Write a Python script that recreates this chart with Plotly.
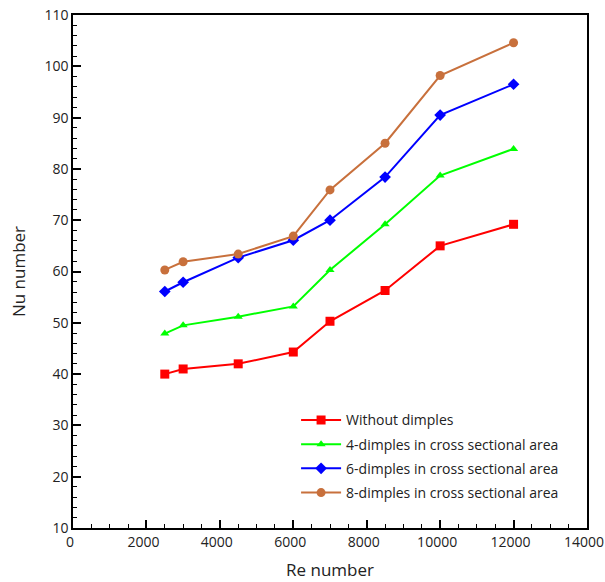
import plotly.graph_objects as go

re_values = [2500, 3000, 4500, 6000, 7000, 8500, 10000, 12000]
nu_without = [40.0, 41.0, 42.0, 44.3, 50.3, 56.3, 65.0, 69.2]
nu_4 = [47.9, 49.5, 51.2, 53.2, 60.3, 69.2, 78.7, 83.9]
nu_6 = [56.1, 57.9, 62.7, 66.1, 70.0, 78.4, 90.5, 96.5]
nu_8 = [60.3, 61.9, 63.4, 66.9, 75.9, 85.0, 98.2, 104.6]

series_names = [
    "Without dimples",
    "4-dimples in cross sectional area",
    "6-dimples in cross sectional area",
    "8-dimples in cross sectional area",
]
series_values = [nu_without, nu_4, nu_6, nu_8]
colors = ["#FF0000", "#00FF00", "#0000FF", "#C8703C"]
symbols = ["square", "triangle-up", "diamond", "circle"]
sizes = [9, 8, 9, 9]

x_ticks = [0, 2000, 4000, 6000, 8000, 10000, 12000, 14000]
x_labels = [str(v) for v in x_ticks]
y_ticks = [10, 20, 30, 40, 50, 60, 70, 80, 90, 100, 110]
y_labels = [str(v) for v in y_ticks]

fig = go.Figure()
for i, (name, vals, c, s, sz) in enumerate(zip(series_names, series_values, colors, symbols, sizes)):
    fig.add_trace(go.Scatter(
        x=re_values, y=vals, name=name, mode="lines+markers",
        legendgroup=f"g{i}",
        line=dict(color=c, width=2),
        marker=dict(color=c, symbol=s, size=sz),
    ))

font_family = "Open Sans, Noto Sans, DejaVu Sans, sans-serif"
fig.update_layout(
    width=605, height=582,
    margin=dict(l=73, r=18, t=15, b=54),
    paper_bgcolor="white", plot_bgcolor="white",
    font=dict(family=font_family, size=14, color="#222"),
    showlegend=True,
    legend=dict(
        x=0.434, y=0.241, xanchor="left", yanchor="top",
        bgcolor="rgba(0,0,0,0)", font=dict(size=14, color="#222"),
        tracegroupgap=3, itemwidth=40,
    ),
    xaxis=dict(
        range=[0, 14000], tickvals=x_ticks, ticktext=x_labels,
        showgrid=False, zeroline=False, automargin=False, ticklabeloverflow="allow",
        ticklabelshift=-3,
        showline=True, linecolor="black", linewidth=1.5, mirror=True,
        ticks="inside", ticklen=8, tickwidth=1.5, tickcolor="black",
        minor=dict(dtick=500, ticks="inside", ticklen=4, tickwidth=1.2, tickcolor="black", showgrid=False),
        title=dict(text="Re number", font=dict(size=17), standoff=15),
        tickfont=dict(size=14),
    ),
    yaxis=dict(
        range=[10, 110], tickvals=y_ticks, ticktext=y_labels,
        showgrid=False, zeroline=False, automargin=False, ticklabeloverflow="allow",
        showline=True, linecolor="black", linewidth=1.5, mirror=True,
        ticks="inside", ticklen=8, tickwidth=1.5, tickcolor="black",
        minor=dict(dtick=2, ticks="inside", ticklen=4, tickwidth=1.2, tickcolor="black", showgrid=False),
        title=dict(text="Nu number", font=dict(size=17), standoff=14),
        tickfont=dict(size=14),
    ),
)

fig.write_html(
    "out.html",
    config={"displayModeBar": False},
    post_script="document.body.style.margin='0';",
)
